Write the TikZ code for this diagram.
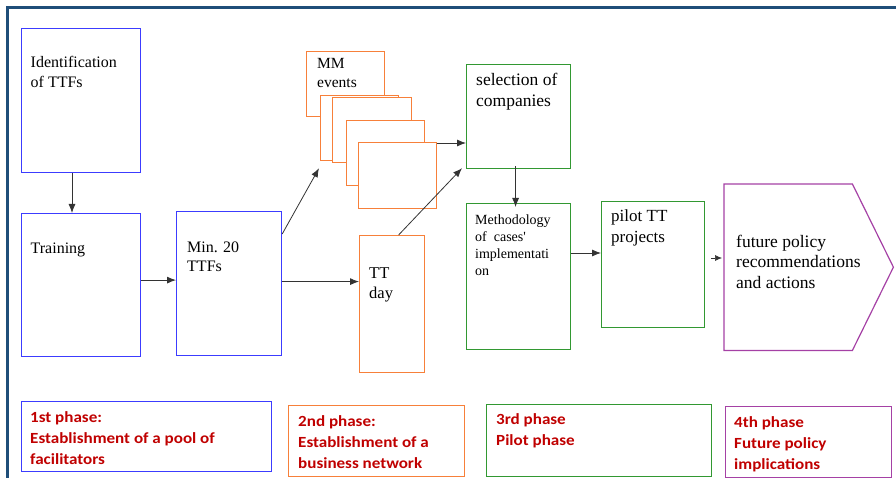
\documentclass[tikz,border=0pt]{standalone}
\usepackage{fontspec}
\setmainfont{Liberation Serif}
\newfontfamily\phasefont[FakeStretch=1.1]{Carlito}
\usetikzlibrary{arrows.meta,calc}

\definecolor{framecol}{RGB}{31,78,121}
\definecolor{bluecol}{RGB}{60,60,255}
\definecolor{orangecol}{RGB}{247,128,58}
\definecolor{greencol}{RGB}{50,152,50}
\definecolor{purplecol}{RGB}{165,65,165}
\definecolor{phasered}{RGB}{192,0,0}

% base anchor of a multi-line node = baseline of its last line
\tikzset{
  box/.style={draw=#1, line width=1.2pt, fill=white, inner sep=0pt, anchor=north west},
  txt/.style={inner sep=0pt, anchor=base west, align=left, font=\fontsize{16}{20}\selectfont},
  phasetxt/.style={inner sep=0pt, anchor=base west, align=left, text=phasered,
    font=\phasefont\bfseries\fontsize{15.5}{21}\selectfont},
  arr/.style={->, >={Latex[length=9pt,width=7pt]}, line width=0.8pt, black!80}
}

\begin{document}
\begin{tikzpicture}[x=1pt,y=-1pt]
\useasboundingbox (0,0) rectangle (896,478);

% Frame
  \draw[framecol, line width=3pt] (7,478) -- (7,8) -- (896,8);

% 1st phase
  \node[box=bluecol, minimum width=119pt, minimum height=144pt] (ident) at (21,28) {};
  \node[box=bluecol, minimum width=119pt, minimum height=143pt] (training) at (21,213) {};
  \node[box=bluecol, minimum width=105pt, minimum height=144pt] (min20) at (176,211) {};
  \node[txt] (identtxt) at (30.5,88) {Identification\\of TTFs};
  \node[txt] (traintxt) at (30.5,254) {Training};
  \node[txt, font=\fontsize{16}{19}\selectfont] (min20txt) at (187,271) {Min. 20\\TTFs};

% 2nd phase
  \node[box=orangecol, minimum width=78pt, minimum height=65pt] (mma) at (306,51) {};
  \node[box=orangecol, minimum width=78pt, minimum height=65pt] (mmb) at (320,95) {};
  \node[box=orangecol, minimum width=79pt, minimum height=65pt] (mmc) at (332,97) {};
  \node[box=orangecol, minimum width=78pt, minimum height=65pt] (mmd) at (346,120) {};
  \node[box=orangecol, minimum width=78pt, minimum height=66pt] (mme) at (358,142) {};
  \node[box=orangecol, minimum width=65pt, minimum height=137pt] (ttday) at (359,235) {};
  \node[txt, font=\fontsize{15.5}{19}\selectfont] (mmtxt) at (317,88) {MM\\events};
  \node[txt, font=\fontsize{16.5}{20}\selectfont] (ttdaytxt) at (369,298) {TT\\day};

% 3rd phase
  \node[box=greencol, minimum width=104pt, minimum height=104pt] (sel) at (466,64) {};
  \node[box=greencol, minimum width=104pt, minimum height=146pt] (meth) at (466,203) {};
  \node[box=greencol, minimum width=103pt, minimum height=126pt] (pilot) at (601,201) {};
  \node[txt, font=\fontsize{17.5}{21}\selectfont] (seltxt) at (476,107) {selection of\\companies};
  \node[txt, font=\fontsize{14}{17}\selectfont] (methtxt) at (475,275) {Methodology\\of~ cases\textquotesingle\\implementati\\on};
  \node[txt, font=\fontsize{17}{21}\selectfont] (pilottxt) at (611,243) {pilot TT\\projects};

% 4th phase
  \node[inner sep=0pt, anchor=north west, minimum width=128pt, minimum height=166pt] (future) at (724,184) {};
  \draw[purplecol, line width=1.2pt] (future.north west) -- (future.north east)
    -- ($(future.east)+(41pt,0)$) -- (future.south east) -- (future.south west) -- cycle;
  \node[txt, font=\fontsize{17.5}{20.5}\selectfont] (futtxt) at (736,288) {future policy\\recommendations\\and actions};

% Arrows
  \draw[arr] (ident.south -| 72,0) -- (training.north -| 72,0);
  \draw[arr] ([yshift=5pt]training.east) -- ([yshift=5pt]training.east -| min20.west);
  \draw[arr] ([yshift=-23pt]min20.north east) -- ([shift={(-1pt,-7pt)}]mmb.south west);
  \draw[arr] ([yshift=2pt]min20.east) -- ([yshift=2pt]min20.east -| ttday.west);
  \draw[arr] ([yshift=-1pt]mme.north east) -- ([yshift=-1pt]mme.north east -| sel.west);
  \draw[arr] ([xshift=6.5pt]ttday.north) -- ([shift={(-4pt,1pt)}]sel.south west);
  \draw[arr] ([xshift=-3pt,yshift=3pt]sel.south) -- ([xshift=-3pt,yshift=-4pt]meth.north);
  \draw[arr] ([yshift=-50pt]meth.north east) -- ([yshift=-50pt]meth.north east -| pilot.west);
  \draw[arr, line width=0.6pt, >={Latex[length=7pt,width=6pt]}] ([shift={(6pt,-57pt)}]pilot.north east)
    -- ([shift={(-2pt,-57pt)}]pilot.north east -| future.west);

% Phase labels
  \node[box=bluecol, minimum width=250pt, minimum height=70pt] (phase1) at (21,401) {};
  \node[box=orangecol, minimum width=176pt, minimum height=71pt] (phase2) at (288,405) {};
  \node[box=greencol, minimum width=225pt, minimum height=72pt] (phase3) at (486,404) {};
  \node[box=purplecol, minimum width=166pt, minimum height=71pt] (phase4) at (725,406) {};
  \node[phasetxt] (phase1txt) at (30,464) {1st phase:\\Establishment of a pool of\\facilitators};
  \node[phasetxt] (phase2txt) at (298,468) {2nd phase:\\Establishment of a\\business network};
  \node[phasetxt] (phase3txt) at (496,445) {3rd phase\\Pilot phase};
  \node[phasetxt] (phase4txt) at (734,469) {4th phase\\Future policy\\implications};

\end{tikzpicture}
\end{document}
